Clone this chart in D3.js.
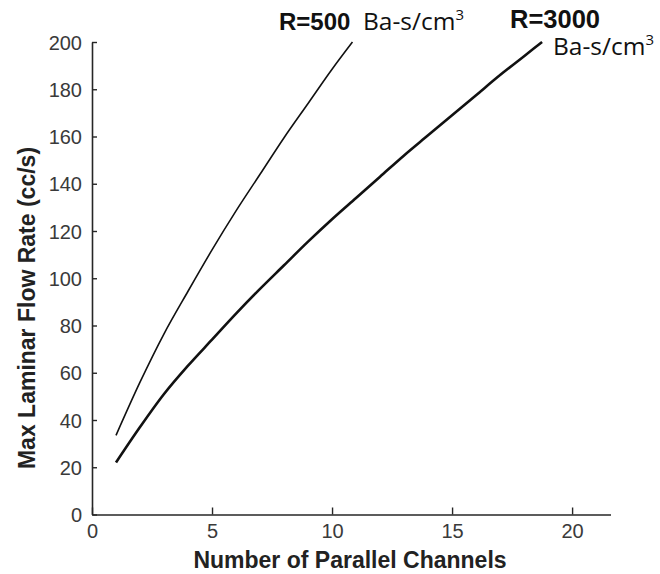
<!DOCTYPE html>
<html>
<head>
<meta charset="utf-8">
<script src="https://cdn.jsdelivr.net/npm/d3@7"></script>
<style>
  html, body { margin: 0; padding: 0; background: #fff; }
  svg { display: block; }
</style>
</head>
<body>
<svg id="chart" width="660" height="574"></svg>
<script>
// Number of parallel channels (x) and the maximum laminar flow rate (cc/s)
const channelsR500 = [1, 2, 3, 4, 5, 6, 7, 8, 9, 10, 10.85];
const flowR500 = [33.5, 56, 76.5, 94.5, 112, 128.5, 144, 159.5, 174, 188.5, 200];

const channelsR3000 = [1, 2, 3, 4, 5, 6, 7, 8, 9, 10, 11, 12, 13, 14, 15, 16, 17, 18, 18.75];
const flowR3000 = [22, 37, 51, 63, 74, 85, 95.5, 105.5, 115.5, 125, 134, 143, 152, 160.5, 169, 177.5, 186, 194, 200];

const xTicks = [0, 5, 10, 15, 20];
const yTicks = [0, 20, 40, 60, 80, 100, 120, 140, 160, 180, 200];

const svg = d3.select("#chart");

const x = d3.scaleLinear().domain([0, 21.6]).range([92, 610.5]);
const y = d3.scaleLinear().domain([0, 200]).range([514.5, 42]);

const axisColor = "#262626";
const tickText = "#3a3a3a";

// Axes (ticks point into the plot area)
const xAxis = svg.append("g")
  .attr("transform", `translate(0,${y(0)})`)
  .call(d3.axisBottom(x).tickValues(xTicks).tickSizeInner(-7).tickSizeOuter(0).tickPadding(9));
const yAxis = svg.append("g")
  .attr("transform", `translate(${x(0)},0)`)
  .call(d3.axisLeft(y).tickValues(yTicks).tickSizeInner(-5).tickSizeOuter(0).tickPadding(10));

[xAxis, yAxis].forEach(g => {
  g.select(".domain").attr("stroke", axisColor).attr("stroke-width", 1.6);
  g.selectAll(".tick line").attr("stroke", axisColor).attr("stroke-width", 1.4);
  g.selectAll(".tick text")
    .attr("fill", tickText)
    .attr("font-family", "'Liberation Sans', Arial, sans-serif")
    .attr("font-size", 20);
});
yAxis.selectAll(".tick text").attr("dy", "0.36em");

// Curves
const line = d3.line()
  .x(d => x(d[0]))
  .y(d => y(d[1]))
  .curve(d3.curveMonotoneX);

svg.append("path")
  .datum(d3.zip(channelsR500, flowR500))
  .attr("d", line)
  .attr("fill", "none")
  .attr("stroke", "#111")
  .attr("stroke-width", 1.6);

svg.append("path")
  .datum(d3.zip(channelsR3000, flowR3000))
  .attr("d", line)
  .attr("fill", "none")
  .attr("stroke", "#111")
  .attr("stroke-width", 2.6);

// Axis titles
svg.append("text")
  .attr("x", 350).attr("y", 568)
  .attr("text-anchor", "middle")
  .attr("font-family", "'Liberation Sans', Arial, sans-serif")
  .attr("font-weight", "bold")
  .attr("font-size", 23)
  .attr("fill", "#222")
  .text("Number of Parallel Channels");

svg.append("text")
  .attr("transform", "translate(35,308) rotate(-90)")
  .attr("text-anchor", "middle")
  .attr("font-family", "'Liberation Sans', Arial, sans-serif")
  .attr("font-weight", "bold")
  .attr("font-size", 23)
  .attr("fill", "#222")
  .text("Max Laminar Flow Rate (cc/s)");

// Curve labels
function curveLabel(name, nameSize, xName, yName, xUnit, yUnit) {
  svg.append("text")
    .attr("x", xName).attr("y", yName)
    .attr("font-family", "'Liberation Sans', Arial, sans-serif")
    .attr("font-weight", "bold")
    .attr("font-size", nameSize)
    .attr("fill", "#111")
    .text(name);
  const u = svg.append("text")
    .attr("x", xUnit).attr("y", yUnit)
    .attr("font-family", "'Open Sans', Lato, sans-serif")
    .attr("font-size", 24.5)
    .attr("fill", "#111");
  u.append("tspan").text("Ba-s/cm");
  u.append("tspan").attr("dy", -10).attr("font-size", 15).text("3");
}
curveLabel("R=500", 24, 279, 30, 363, 30);
curveLabel("R=3000", 25.5, 510, 28, 553, 55);
</script>
</body>
</html>
